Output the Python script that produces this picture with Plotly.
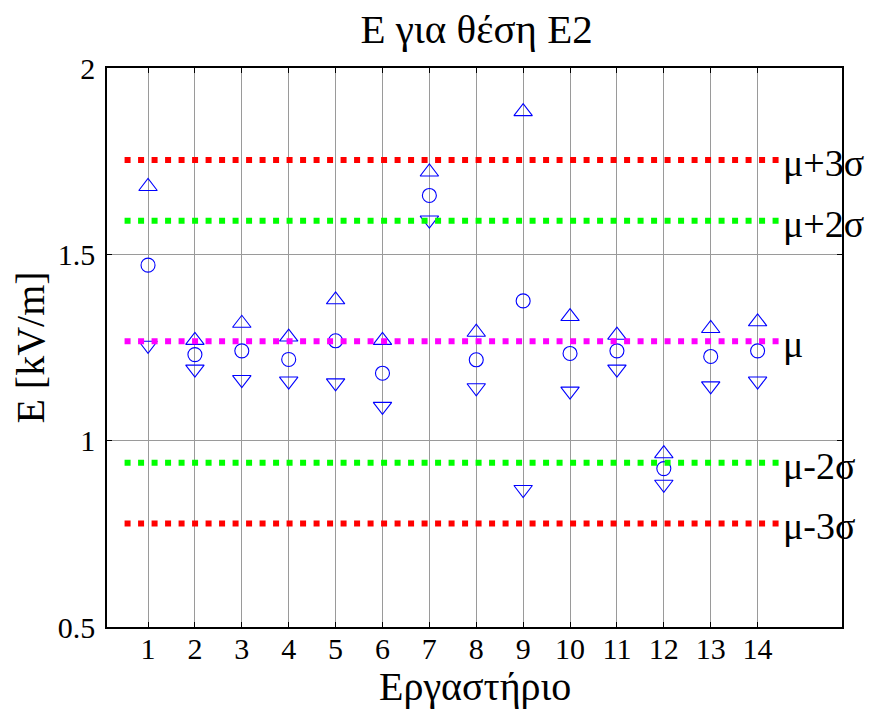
import plotly.graph_objects as go

labs = list(range(1, 15))
e_max = [1.682, 1.269, 1.315, 1.278, 1.378, 1.269, 1.721, 1.291, 1.883, 1.333, 1.283, 0.965, 1.301, 1.319]
e_mean = [1.471, 1.231, 1.241, 1.218, 1.268, 1.181, 1.658, 1.217, 1.375, 1.234, 1.241, 0.925, 1.226, 1.241]
e_min = [1.256, 1.192, 1.164, 1.160, 1.155, 1.092, 1.592, 1.142, 0.869, 1.133, 1.192, 0.883, 1.147, 1.160]

limit_values = [1.753, 1.590, 1.267, 0.941, 0.778]
limit_labels = ["μ+3σ", "μ+2σ", "μ", "μ-2σ", "μ-3σ"]
limit_colors = ["#ff0000", "#00ff00", "#ff00ff", "#00ff00", "#ff0000"]
line_span = [0.5, 14.5]

FONT = "Liberation Serif"
BLUE = "#0000ff"

fig = go.Figure()

for vals, sym, size in [(e_max, "triangle-up-open", 16),
                        (e_mean, "circle-open", 14),
                        (e_min, "triangle-down-open", 16)]:
    fig.add_trace(go.Scatter(
        x=labs, y=vals, mode="markers",
        marker=dict(symbol=sym, size=size, color=BLUE, line=dict(color=BLUE, width=1.1)),
        showlegend=False, hoverinfo="x+y"))

for v, lab, col in zip(limit_values, limit_labels, limit_colors):
    fig.add_trace(go.Scatter(
        x=line_span, y=[v, v], mode="lines",
        line=dict(color=col, width=6, dash="6px,7.5px"),
        showlegend=False, hoverinfo="y"))
    fig.add_annotation(x=line_span[1], y=v, xref="x", yref="y", text=lab,
                       showarrow=False, xanchor="left", yanchor="middle", xshift=0, yshift=-3,
                       font=dict(family=FONT, size=38, color="black"))

# x-axis title placed as an annotation for exact vertical placement
fig.add_annotation(x=0.5, y=0, xref="paper", yref="paper", text="Εργαστήριο",
                   showarrow=False, xanchor="center", yanchor="middle", yshift=-59,
                   font=dict(family=FONT, size=40, color="black"))

fig.update_layout(
    width=875, height=712,
    margin=dict(l=99, r=41, t=60, b=93),
    paper_bgcolor="white", plot_bgcolor="white",
    font=dict(family=FONT, size=30, color="black"),
    title=dict(text="E για θέση E2", x=0.5355, xanchor="center", y=1.0, yanchor="top",
               pad=dict(t=6), font=dict(family=FONT, size=41, color="black")),
)

fig.update_xaxes(
    range=[0.125, 15.8], tickvals=labs, ticktext=[str(l) for l in labs],
    showgrid=True, gridcolor="#9a9a9a", gridwidth=1,
    showline=True, linecolor="black", linewidth=1.5, mirror="ticks",
    ticks="inside", ticklen=5, tickcolor="black", ticklabelstandoff=-6,
    zeroline=False,
)
fig.update_yaxes(
    range=[0.5, 2], tickvals=[0.5, 1, 1.5, 2], ticktext=["0.5", "1", "1.5", "2"],
    showgrid=True, gridcolor="#9a9a9a", gridwidth=1,
    showline=True, linecolor="black", linewidth=1.5, mirror="ticks",
    ticks="inside", ticklen=5, tickcolor="black", ticklabelstandoff=4,
    zeroline=False,
    title=dict(text="E [kV/m]", font=dict(family=FONT, size=40), standoff=8),
)

fig.write_html("out.html")
